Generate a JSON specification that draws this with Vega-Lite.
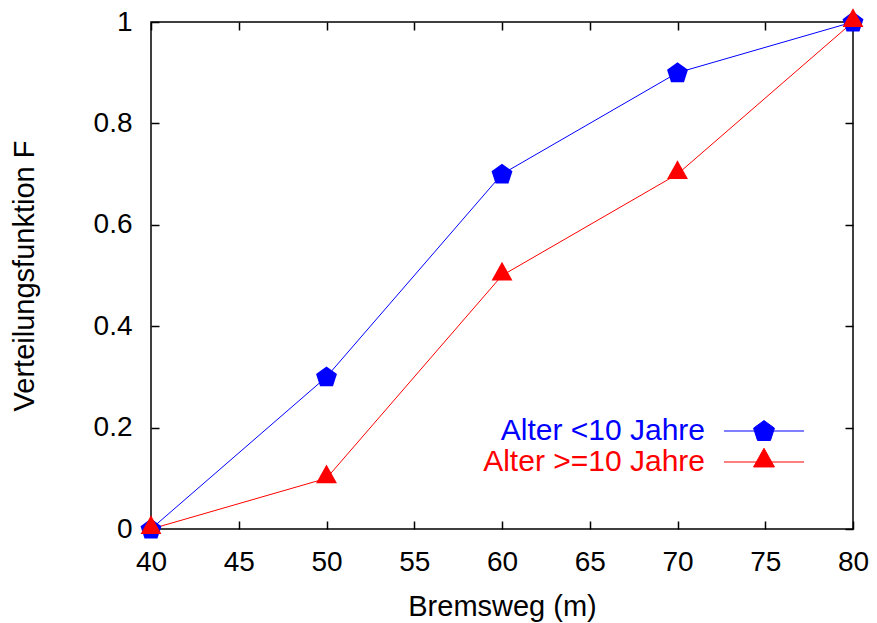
{
  "$schema": "https://vega.github.io/schema/vega-lite/v6.json",
  "width": 702,
  "height": 507,
  "autosize": "none",
  "padding": {"left": 151, "top": 22, "right": 24, "bottom": 94},
  "background": "white",
  "config": {
    "view": {"stroke": "black", "strokeWidth": 1.5},
    "font": "Liberation Sans",
    "axis": {
      "grid": false,
      "domain": false,
      "ticks": true,
      "tickColor": "black",
      "tickSize": -8,
      "tickWidth": 1.5,
      "labelFont": "Liberation Sans",
      "labelFontSize": 28,
      "labelColor": "black",
      "titleFont": "Liberation Sans",
      "titleFontSize": 29,
      "titleFontWeight": "normal",
      "titleColor": "black"
    }
  },
  "data": {
    "values": [
      {"Bremsweg": 40, "F": 0, "Gruppe": "Alter <10 Jahre"},
      {"Bremsweg": 50, "F": 0.3, "Gruppe": "Alter <10 Jahre"},
      {"Bremsweg": 60, "F": 0.7, "Gruppe": "Alter <10 Jahre"},
      {"Bremsweg": 70, "F": 0.9, "Gruppe": "Alter <10 Jahre"},
      {"Bremsweg": 80, "F": 1, "Gruppe": "Alter <10 Jahre"},
      {"Bremsweg": 40, "F": 0, "Gruppe": "Alter >=10 Jahre"},
      {"Bremsweg": 50, "F": 0.1, "Gruppe": "Alter >=10 Jahre"},
      {"Bremsweg": 60, "F": 0.5, "Gruppe": "Alter >=10 Jahre"},
      {"Bremsweg": 70, "F": 0.7, "Gruppe": "Alter >=10 Jahre"},
      {"Bremsweg": 80, "F": 1, "Gruppe": "Alter >=10 Jahre"}
    ]
  },
  "resolve": {"axis": {"x": "independent", "y": "independent"}},
  "layer": [
    {
      "mark": {"type": "line", "strokeWidth": 1},
      "encoding": {
        "x": {
          "field": "Bremsweg", "type": "quantitative",
          "scale": {"domain": [40, 80], "nice": false, "zero": false},
          "axis": {"orient": "bottom", "values": [40, 45, 50, 55, 60, 65, 70, 75, 80], "title": "Bremsweg (m)", "labelPadding": 27, "titlePadding": 16, "labelFlush": false}
        },
        "y": {
          "field": "F", "type": "quantitative",
          "scale": {"domain": [0, 1], "nice": false},
          "axis": {"orient": "left", "values": [0, 0.2, 0.4, 0.6, 0.8, 1], "format": "~g", "title": "Verteilungsfunktion F", "labelPadding": 27, "titlePadding": 54, "labelFlush": false}
        },
        "color": {
          "field": "Gruppe", "type": "nominal",
          "scale": {"domain": ["Alter <10 Jahre", "Alter >=10 Jahre"], "range": ["#0000ff", "#ff0000"]},
          "legend": {
            "orient": "none",
            "legendX": 598,
            "legendY": 394,
            "title": null,
            "padding": 0,
            "labelFont": "Liberation Sans",
            "labelFontSize": 30,
            "labelLimit": 0,
            "labelAlign": "right",
            "labelOffset": -74,
            "symbolSize": 484,
            "symbolStrokeWidth": 1,
            "rowPadding": 0,
            "encode": {
              "labels": {"update": {"fill": {"signal": "datum.value === 'Alter <10 Jahre' ? '#0000ff' : '#ff0000'"}}},
              "symbols": {"update": {
                "shape": {"signal": "datum.value === 'Alter <10 Jahre' ? 'M-3.64,0L3.64,0M0,-0.95L0.951,-0.26L0.588,0.86L-0.588,0.86L-0.951,-0.26Z' : 'M-3.64,0L3.64,0M0,-1.25L0.95,0.45L-0.95,0.45Z'"},
                "fill": {"signal": "datum.value === 'Alter <10 Jahre' ? '#0000ff' : '#ff0000'"},
                "stroke": {"signal": "datum.value === 'Alter <10 Jahre' ? '#0000ff' : '#ff0000'"},
                "strokeWidth": {"value": 1},
                "opacity": {"value": 1},
                "fillOpacity": {"value": 1},
                "strokeOpacity": {"value": 1}
              }}
            }
          }
        }
      }
    },
    {
      "transform": [{"filter": "datum.Gruppe === 'Alter <10 Jahre'"}],
      "mark": {"type": "point", "filled": true, "size": 484, "opacity": 1, "color": "#0000ff", "shape": "M0,-0.95L0.951,-0.26L0.588,0.86L-0.588,0.86L-0.951,-0.26Z"},
      "encoding": {
        "x": {
          "field": "Bremsweg", "type": "quantitative",
          "axis": {"orient": "top", "values": [40, 45, 50, 55, 60, 65, 70, 75, 80], "labels": false, "title": null}
        },
        "y": {
          "field": "F", "type": "quantitative",
          "axis": {"orient": "right", "values": [0, 0.2, 0.4, 0.6, 0.8, 1], "labels": false, "title": null}
        }
      }
    },
    {
      "transform": [{"filter": "datum.Gruppe === 'Alter >=10 Jahre'"}],
      "mark": {"type": "point", "filled": true, "size": 484, "opacity": 1, "color": "#ff0000", "shape": "M0,-1.25L0.95,0.45L-0.95,0.45Z"},
      "encoding": {
        "x": {"field": "Bremsweg", "type": "quantitative", "axis": null},
        "y": {"field": "F", "type": "quantitative", "axis": null}
      }
    }
  ]
}
